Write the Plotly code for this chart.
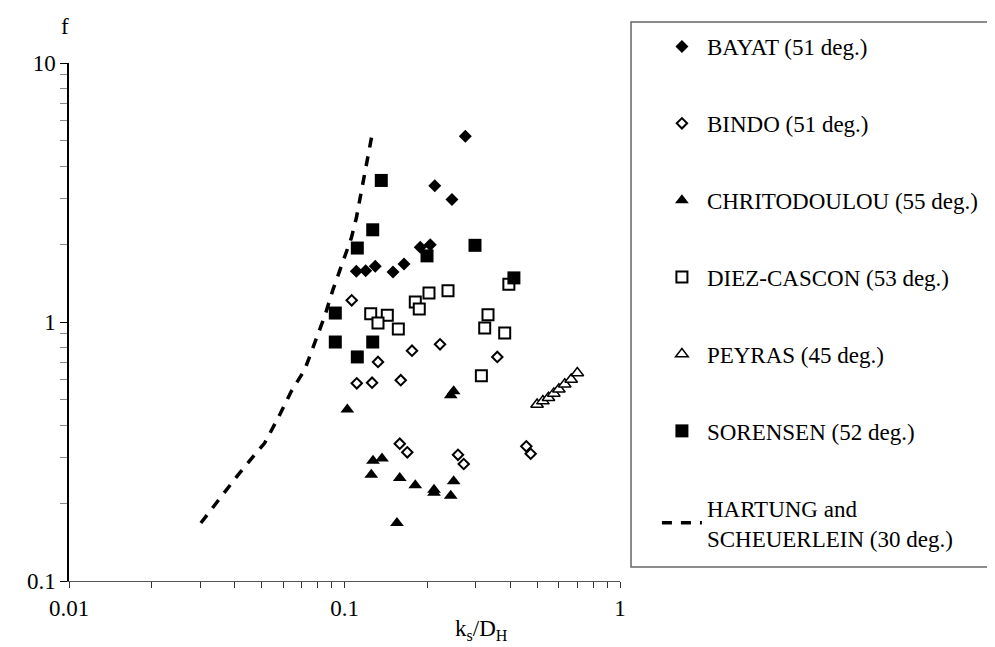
import plotly.graph_objects as go

# ---------------- data ----------------
bayat_x = [0.2745, 0.2126, 0.2455, 0.1884, 0.2048, 0.1104, 0.1194, 0.1293, 0.150, 0.1644]
bayat_y = [5.21, 3.36, 2.97, 1.943, 1.988, 1.570, 1.578, 1.641, 1.56, 1.675]

bindo_x = [0.1062, 0.1323, 0.1758, 0.2222, 0.3586, 0.1108, 0.1259, 0.160, 0.1587, 0.169,
           0.2582, 0.2709, 0.457, 0.474]
bindo_y = [1.213, 0.701, 0.775, 0.820, 0.733, 0.580, 0.583, 0.596, 0.339, 0.314,
           0.307, 0.283, 0.331, 0.310]

chri_x = [0.249, 0.243, 0.1024, 0.1269, 0.1368, 0.1251, 0.1587, 0.1807, 0.2113, 0.2113,
          0.249, 0.243, 0.155]
chri_y = [0.540, 0.521, 0.459, 0.291, 0.297, 0.257, 0.250, 0.234, 0.225, 0.219,
          0.243, 0.2135, 0.1675]

diez_x = [0.2375, 0.2026, 0.1807, 0.1868, 0.1245, 0.143, 0.1323, 0.1568, 0.3318, 0.3228,
          0.3815, 0.395, 0.3139]
diez_y = [1.32, 1.294, 1.195, 1.122, 1.077, 1.061, 0.991, 0.939, 1.067, 0.948,
          0.907, 1.40, 0.620]

peyras_x = [0.50, 0.525, 0.55, 0.575, 0.60, 0.63, 0.665, 0.70]
peyras_y = [0.48, 0.495, 0.51, 0.53, 0.55, 0.575, 0.60, 0.635]

sor_x = [0.136, 0.1266, 0.1113, 0.1993, 0.2976, 0.0926, 0.0926, 0.1266, 0.1113, 0.412]
sor_y = [3.52, 2.27, 1.93, 1.80, 1.977, 1.083, 0.837, 0.837, 0.733, 1.48]

hart_x = [0.0301, 0.0352, 0.0411, 0.0485, 0.0513, 0.0574, 0.0641, 0.0717, 0.0780,
          0.0847, 0.0908, 0.0988, 0.1059, 0.1104, 0.1158, 0.1210, 0.1269]
hart_y = [0.1675, 0.209, 0.257, 0.318, 0.341, 0.426, 0.540, 0.654, 0.830,
          1.052, 1.333, 1.716, 2.112, 2.52, 3.29, 4.17, 5.53]

names = ["BAYAT (51 deg.)", "BINDO (51 deg.)", "CHRITODOULOU (55 deg.)",
         "DIEZ-CASCON (53 deg.)", "PEYRAS (45 deg.)", "SORENSEN (52 deg.)",
         "HARTUNG and<br>SCHEUERLEIN (30 deg.)"]

x_tickvals = [0.01, 0.1, 1]
x_ticktext = ["0.01", "0.1", "1"]
y_tickvals = [0.1, 1, 10]
y_ticktext = ["0.1", "1", "10"]

# ---------------- figure ----------------
FONT = "Liberation Serif"
FS = 23
fig = go.Figure()

def mk(x, y, name, symbol, size, filled, lw=2):
    fig.add_trace(go.Scatter(
        x=x, y=y, mode="markers", name=name, legendgroup=name,
        marker=dict(symbol=symbol, size=size,
                    color="black" if filled else "white",
                    line=dict(color="black", width=0 if filled else lw)),
    ))

mk(bayat_x, bayat_y, names[0], "diamond", 10, True)
mk(bindo_x, bindo_y, names[1], "diamond", 8, False)
mk(chri_x, chri_y, names[2], "triangle-up", 12, True)
mk(diez_x, diez_y, names[3], "square", 11, False)
mk(peyras_x, peyras_y, names[4], "triangle-up", 11, False, 1.5)
mk(sor_x, sor_y, names[5], "square", 13, True)

fig.add_trace(go.Scatter(
    x=hart_x, y=hart_y, mode="lines", name=names[6], legendgroup=names[6],
    line=dict(color="black", width=3.5, dash="10px,9px"),
))

minor_x = [k * 10 ** e for e in (-2, -1) for k in range(2, 10)]
minor_y = [k * 10 ** e for e in (-1, 0) for k in range(2, 10)]

fig.update_layout(
    width=995, height=647,
    margin=dict(l=61, r=383, t=55, b=74),
    paper_bgcolor="white", plot_bgcolor="white",
    font=dict(family=FONT, size=FS, color="black"),
    showlegend=True,
    legend=dict(
        x=1.067, y=1.0735, xanchor="left", yanchor="top",
        bgcolor="rgba(0,0,0,0)", borderwidth=0,
        tracegroupgap=44, traceorder="grouped",
        itemwidth=40, maxheight=640,
        font=dict(family=FONT, size=FS, color="black"),
    ),
    xaxis=dict(
        type="log", range=[-2, 0], tickmode="array",
        tickvals=x_tickvals, ticktext=x_ticktext,
        showgrid=False, zeroline=False,
        showline=True, linecolor="#555", linewidth=1,
        ticks="outside", ticklen=6, tickcolor="#333",
        tickfont=dict(family=FONT, size=FS),
        minor=dict(tickvals=minor_x, ticks="outside", ticklen=6,
                   tickcolor="#333", showgrid=False),
    ),
    yaxis=dict(
        type="log", range=[-1, 1], tickmode="array",
        tickvals=y_tickvals, ticktext=y_ticktext,
        showgrid=False, zeroline=False,
        showline=True, linecolor="black", linewidth=1.5,
        ticks="outside", ticklen=7, tickcolor="black",
        tickfont=dict(family=FONT, size=FS),
        minor=dict(tickvals=minor_y, ticks="outside", ticklen=7,
                   tickcolor="#888", showgrid=False),
    ),
    shapes=[dict(type="rect", xref="paper", yref="paper",
                 x0=1.020, x1=1.68, y0=0.027, y1=1.079,
                 line=dict(color="#666", width=1.5), fillcolor="rgba(0,0,0,0)")],
    annotations=[
        dict(text="f", xref="paper", yref="paper", x=-0.007, y=1.0695,
             showarrow=False, xanchor="center", yanchor="middle",
             font=dict(family=FONT, size=FS)),
        dict(text="k<sub>s</sub>/D<sub>H</sub>", xref="paper", yref="paper",
             x=0.748, y=-0.094, showarrow=False, xanchor="center", yanchor="middle",
             font=dict(family=FONT, size=FS)),
    ],
)

fig.write_html("out.html")
